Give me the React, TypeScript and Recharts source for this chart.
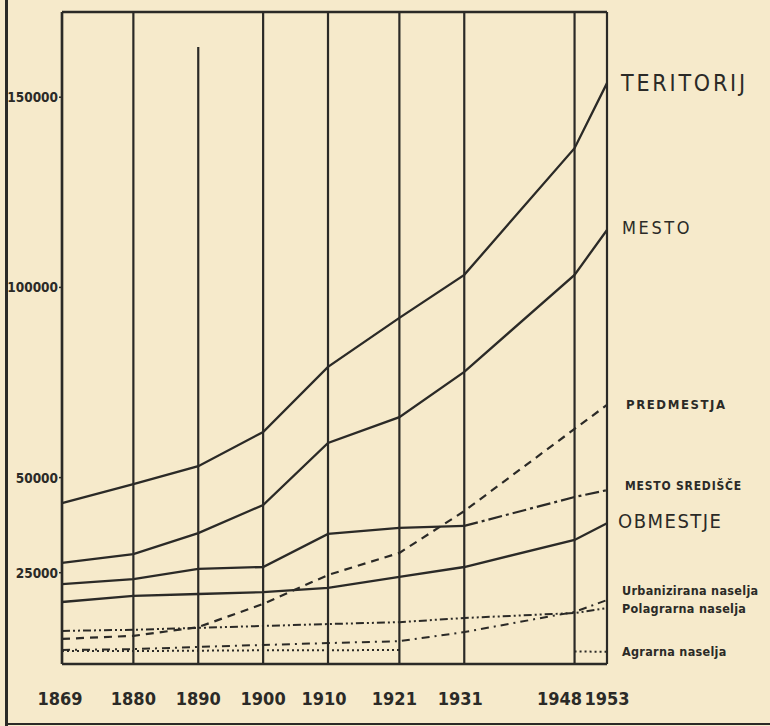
import { Line, LineChart, ReferenceLine, XAxis, YAxis } from "recharts";

const INK = "#2b2a27";
const PAPER = "#f6eacb";
const FONT = "'DejaVu Sans Condensed', 'DejaVu Sans', sans-serif";

// census years (x is numeric, so spacing follows the calendar)
const years = [1869, 1880, 1890, 1900, 1910, 1921, 1931, 1948, 1953];
const yTicks = [25000, 50000, 100000, 150000];

// population, thousands
const teritorij = [43.3, 48.3, 53.0, 62.0, 79.1, 92.0, 103.3, 136.6, 153.7];
const mesto = [27.6, 29.9, 35.4, 42.8, 59.1, 65.9, 77.8, 103.3, 115.1];
const mestoSredisce = [22.0, 23.3, 26.0, 26.5, 35.2, 36.8, 37.3, 44.9, 46.7];
const obmestje = [17.3, 18.9, 19.4, 19.9, 21.0, 23.9, 26.5, 33.6, 38.0];
const predmestja = [7.6, 8.4, 10.7, 16.8, 24.4, 30.2, 41.2, 62.8, 69.1];
const urbanizirana = [4.7, 4.9, 5.5, 6.0, 6.5, 7.0, 9.4, 14.7, 17.8];
const polagrarna = [9.7, 10.0, 10.5, 11.0, 11.5, 12.0, 13.1, 14.4, 15.7];
const agrarna = [4.4, 4.4, 4.5, 4.6, 4.6, 4.7, null, 4.3, 4.2];

const Y_MIN = 1000;
const Y_MAX = 172400;
const SPLIT_YEAR = 1931; // mesto središče turns dash-dot from here

const k = (v: number | null) => (v == null ? null : v * 1000);

const data = years.map((year, i) => ({
  year,
  teritorij: k(teritorij[i]),
  mesto: k(mesto[i]),
  sredisceSolid: year <= SPLIT_YEAR ? k(mestoSredisce[i]) : null,
  sredisceDash: year >= SPLIT_YEAR ? k(mestoSredisce[i]) : null,
  obmestje: k(obmestje[i]),
  predmestja: k(predmestja[i]),
  urbanizirana: k(urbanizirana[i]),
  polagrarna: k(polagrarna[i]),
  agrarna: k(agrarna[i]),
}));

const TICK_SHIFT: Record<number, number> = {
  1869: -2,
  1910: -4,
  1921: -5,
  1931: -4,
  1948: -15,
};

function YearTick(props: any) {
  const { x, y, payload } = props;
  return (
    <text
      x={x + (TICK_SHIFT[payload.value] ?? 0)}
      y={y}
      dy={39}
      textAnchor="middle"
      fill={INK}
      fontFamily={FONT}
      fontWeight="bold"
      fontSize={18}
    >
      {payload.value}
    </text>
  );
}

function ValueTick(props: any) {
  const { x, y, payload } = props;
  return (
    <text
      x={x}
      y={y}
      dy={5}
      textAnchor="end"
      fill={INK}
      fontFamily={FONT}
      fontWeight="bold"
      fontSize={13.5}
    >
      {payload.value}
    </text>
  );
}

const labels = [
  { text: "TERITORIJ", top: 70, left: 621, size: 23, weight: 400, spacing: 2.8 },
  { text: "MESTO", top: 217, left: 622, size: 18, weight: 400, spacing: 2.6 },
  { text: "PREDMESTJA", top: 397, left: 626, size: 13, weight: 700, spacing: 1.6 },
  { text: "MESTO SREDIŠČE", top: 479, left: 625, size: 12, weight: 700, spacing: 0.8 },
  { text: "OBMESTJE", top: 509, left: 618, size: 20, weight: 400, spacing: 1.5 },
  { text: "Urbanizirana naselja", top: 583, left: 622, size: 12.5, weight: 700, spacing: 0.3 },
  { text: "Polagrarna naselja", top: 601, left: 622, size: 12.5, weight: 700, spacing: 0.3 },
  { text: "Agrarna naselja", top: 644, left: 622, size: 12.5, weight: 700, spacing: 0.3 },
];

export default function App() {
  return (
    <div
      style={{
        position: "absolute",
        left: 0,
        top: 0,
        width: 770,
        height: 726,
        background: PAPER,
        overflow: "hidden",
      }}
    >
      {/* scan frame */}
      <div style={{ position: "absolute", left: 5, top: 0, width: 3, height: 726, background: INK }} />
      <div style={{ position: "absolute", left: 5, top: 723, width: 765, height: 2, background: INK }} />

      <LineChart
        width={770}
        height={726}
        data={data}
        margin={{ top: 12, right: 163, left: 0, bottom: 0 }}
        style={{ position: "absolute", left: 0, top: 0 }}
      >
        <XAxis
          dataKey="year"
          type="number"
          domain={[1869, 1953]}
          ticks={years}
          height={62}
          tickLine={false}
          tickSize={0}
          axisLine={{ stroke: INK, strokeWidth: 2.5 }}
          tick={<YearTick />}
          interval={0}
        />
        <YAxis
          type="number"
          domain={[Y_MIN, Y_MAX]}
          ticks={yTicks}
          width={62}
          tickSize={3}
          tickMargin={1}
          axisLine={{ stroke: INK, strokeWidth: 2.5 }}
          tickLine={{ stroke: INK, strokeWidth: 1.5 }}
          tick={<ValueTick />}
          allowDataOverflow
        />

        <ReferenceLine y={Y_MAX} stroke={INK} strokeWidth={2.5} />
        {years.map((yr) =>
          yr === 1890 ? (
            <ReferenceLine
              key={yr}
              segment={[
                { x: yr, y: 163200 },
                { x: yr, y: Y_MIN },
              ]}
              stroke={INK}
              strokeWidth={2.2}
            />
          ) : (
            <ReferenceLine key={yr} x={yr} stroke={INK} strokeWidth={2.2} />
          )
        )}

        <Line dataKey="teritorij" stroke={INK} strokeWidth={2.3} dot={false} isAnimationActive={false} />
        <Line dataKey="mesto" stroke={INK} strokeWidth={2.3} dot={false} isAnimationActive={false} />
        <Line dataKey="sredisceSolid" stroke={INK} strokeWidth={2.3} dot={false} isAnimationActive={false} />
        <Line
          dataKey="sredisceDash"
          stroke={INK}
          strokeWidth={2.2}
          strokeDasharray="14 4 3 4"
          dot={false}
          isAnimationActive={false}
        />
        <Line dataKey="obmestje" stroke={INK} strokeWidth={2.3} dot={false} isAnimationActive={false} />
        <Line
          dataKey="predmestja"
          stroke={INK}
          strokeWidth={2.2}
          strokeDasharray="8 6"
          dot={false}
          isAnimationActive={false}
        />
        <Line
          dataKey="urbanizirana"
          stroke={INK}
          strokeWidth={2}
          strokeDasharray="8 5 2 5"
          dot={false}
          isAnimationActive={false}
        />
        <Line
          dataKey="polagrarna"
          stroke={INK}
          strokeWidth={2}
          strokeDasharray="8 3 2 3 2 3"
          dot={false}
          isAnimationActive={false}
        />
        <Line
          dataKey="agrarna"
          stroke={INK}
          strokeWidth={2}
          strokeDasharray="2 3"
          dot={false}
          isAnimationActive={false}
        />
      </LineChart>

      {labels.map((l) => (
        <div
          key={l.text}
          style={{
            position: "absolute",
            left: l.left,
            top: l.top,
            fontFamily: FONT,
            fontSize: l.size,
            fontWeight: l.weight,
            letterSpacing: l.spacing,
            color: INK,
            whiteSpace: "nowrap",
            lineHeight: 1.2,
          }}
        >
          {l.text}
        </div>
      ))}
    </div>
  );
}
